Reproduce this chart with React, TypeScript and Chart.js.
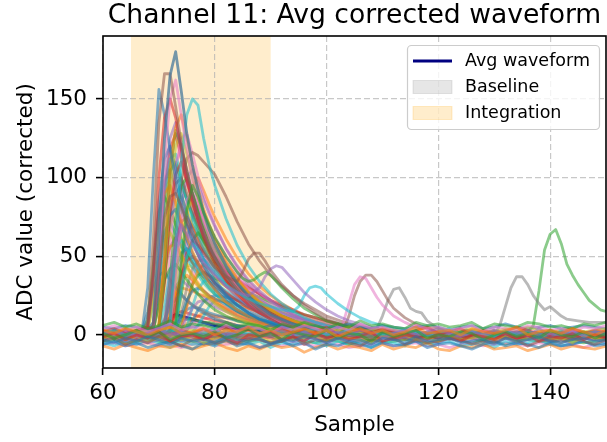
import React, { useEffect, useRef } from "react";
import { Chart, registerables } from "chart.js";

Chart.register(...registerables);

// ---------- text ----------
const TITLE = "Channel 11: Avg corrected waveform";
const X_LABEL = "Sample";
const Y_LABEL = "ADC value (corrected)";
const LEGEND_LABELS = ["Avg waveform", "Baseline", "Integration"];

// ---------- axes ----------
const X_RANGE = [60, 150];
const Y_RANGE = [-21, 190];
const X_TICKS = [60, 80, 100, 120, 140];
const Y_TICKS = [0, 50, 100, 150];
const INTEGRATION_WINDOW = [65, 90];
const BASELINE_WINDOW = [0, 20];

// ---------- average waveform ----------
const AVG_SAMPLES = [60, 64, 66, 68, 70, 71, 72, 73, 74, 75, 76, 78, 80, 84, 88, 92, 96, 100, 110, 120, 130, 140, 150];
const AVG_VALUES = [0, 0, 0, 1, 3, 7, 11, 13, 12, 11, 10, 8, 6, 4, 3, 2, 1, 1, 0, 0, 0, 0, 0];

// ---------- early pulses (shared sample grid) ----------
const PULSE_SAMPLES = [60, 62, 64, 66, 67, 68, 69, 70, 71, 72, 73, 74, 75, 76, 77, 78, 79, 80, 82, 84, 86, 88, 90, 92, 94, 96, 98, 100, 104, 108, 112, 116, 120, 125, 130, 135, 140, 145, 150];
const PULSE_TRACES: number[][] = [
  [2, -3, 4, 1, -2, 3, 8, 60, 125, 165, 180, 155, 128, 108, 92, 78, 67, 58, 44, 33, 25, 18, 13, 10, 7, 5, 2, 3, -1, 2, -3, 1, -2, 3, -1, 2, -4, 1, 0],
  [-4, 3, -1, 2, 2, 8, 60, 135, 166, 166, 145, 122, 104, 89, 76, 65, 56, 49, 38, 29, 22, 16, 12, 9, 6, 4, 3, 1, -2, 3, 0, -3, 2, -1, 3, -2, 1, -3, 2],
  [1, -2, 2, -3, 0, 2, 6, 45, 110, 150, 162, 140, 118, 100, 85, 72, 62, 53, 40, 30, 22, 17, 12, 8, 6, 3, 4, 1, 2, -2, 1, 3, -1, 0, -3, 2, 0, 3, -2],
  [-2, 2, 0, 3, -1, 1, -2, 2, 4, 8, 55, 110, 140, 150, 146, 125, 108, 95, 74, 57, 44, 34, 26, 20, 15, 11, 8, 6, 3, 1, 2, -1, 1, -2, 2, 0, -1, 2, 1],
  [3, -1, -4, 2, 1, 5, 40, 100, 138, 150, 138, 118, 100, 85, 73, 62, 53, 46, 35, 26, 19, 14, 10, 7, 5, 3, 1, 2, -1, 0, -2, 2, 0, 1, -2, 3, -1, 0, -3],
  [0, 2, -1, 1, 3, 30, 100, 156, 140, 118, 99, 84, 71, 60, 51, 44, 38, 33, 25, 19, 14, 10, 8, 6, 4, 3, 2, 1, 1, -1, 2, 0, -2, 1, 0, -1, 2, -2, 1],
  [-1, 1, 3, -2, 2, 0, 1, 6, 50, 105, 132, 140, 125, 108, 93, 80, 70, 61, 47, 36, 27, 21, 16, 12, 9, 6, 4, 3, 1, 2, -1, 0, 2, -2, 1, 0, 3, -1, 0],
  [2, 0, -2, 1, 3, -1, 5, 40, 95, 125, 135, 118, 101, 87, 75, 65, 56, 49, 37, 28, 21, 16, 12, 9, 6, 5, 3, 2, 0, 1, -2, 2, -1, 0, 2, -3, 1, 0, 2],
  [-3, 1, 2, -1, 0, 2, -1, 4, 45, 105, 130, 120, 104, 90, 78, 67, 58, 50, 38, 29, 22, 16, 12, 9, 7, 5, 3, 2, 0, -1, 1, -2, 2, 0, -1, 1, -2, 2, 0],
  [1, -2, 0, 2, -1, 1, 2, 7, 40, 90, 120, 128, 115, 100, 87, 76, 66, 58, 45, 35, 27, 21, 16, 12, 9, 7, 5, 3, 2, 0, 1, -1, 0, 2, -2, 1, 0, -1, 1],
  [0, -1, 2, 0, 1, -2, 0, 2, 3, 10, 60, 98, 112, 116, 114, 110, 106, 102, 88, 72, 58, 47, 38, 31, 25, 20, 16, 12, 7, 4, 2, 1, 0, -1, 1, 0, -2, 1, 0],
  [-2, 3, 1, -1, 2, 6, 35, 85, 112, 120, 106, 90, 77, 66, 56, 48, 41, 35, 26, 19, 14, 10, 7, 5, 3, 2, 0, 1, -2, 1, 0, 2, -1, 1, -2, 0, 2, -1, -2],
  [1, 0, -3, 1, 0, -2, 2, 5, 35, 80, 102, 110, 98, 86, 75, 66, 58, 51, 40, 31, 24, 19, 14, 11, 8, 6, 4, 3, 1, 0, -1, 1, 0, -2, 1, 2, -1, 0, 1],
  [0, 2, -1, 0, 2, -1, 1, 0, 5, 35, 75, 95, 100, 90, 79, 69, 61, 54, 42, 33, 26, 20, 15, 12, 9, 7, 5, 4, 2, 1, 0, -1, 1, 0, -1, 2, 0, 1, -1],
  [2, -1, 1, -2, 1, 4, 30, 70, 90, 95, 84, 72, 62, 53, 45, 39, 33, 29, 21, 16, 12, 9, 6, 4, 3, 2, 1, 0, 2, -1, 1, 0, -2, 1, 0, -1, 1, 2, -1],
  [-1, 0, 2, -1, 1, 0, -2, 1, 2, 6, 38, 72, 86, 90, 82, 73, 65, 58, 46, 37, 29, 23, 18, 14, 11, 8, 6, 5, 3, 1, 0, 1, -1, 0, 1, -1, 0, -2, 1],
  [3, 1, -2, 0, -1, 2, 5, 30, 62, 76, 80, 70, 60, 52, 45, 39, 34, 29, 22, 16, 12, 9, 7, 5, 3, 2, 1, 0, -1, 1, -2, 0, 1, -1, 0, 1, -1, 0, 2],
  [-2, 0, 1, 2, -1, 0, 1, -1, 4, 25, 52, 66, 70, 63, 56, 50, 44, 39, 31, 24, 19, 15, 12, 9, 7, 5, 4, 3, 1, 0, 1, -1, 0, 1, -1, 0, 1, -1, 0],
  [0, -2, 1, 0, 1, 3, 20, 45, 60, 65, 58, 50, 43, 37, 32, 27, 23, 20, 15, 11, 8, 6, 4, 3, 2, 1, 0, 1, -1, 0, 1, -1, 0, 1, -2, 0, 1, 0, -1],
  [1, 0, -1, 1, 0, -1, 1, 3, 18, 40, 55, 60, 54, 48, 42, 37, 32, 28, 22, 17, 13, 10, 8, 6, 4, 3, 2, 1, 0, 1, -1, 0, 1, -1, 0, 1, 0, -1, 1],
  [-1, 1, 0, -2, 1, 0, -1, 1, 0, 4, 20, 38, 47, 50, 46, 41, 37, 33, 27, 22, 17, 14, 11, 8, 6, 5, 3, 2, 1, 0, -1, 1, 0, -1, 1, 0, -1, 1, 0],
  [2, 0, -1, 1, 0, 1, 4, 18, 35, 42, 45, 40, 35, 30, 26, 22, 19, 16, 12, 9, 7, 5, 3, 2, 1, 0, 1, -1, 0, 1, -1, 0, 1, 0, -1, 1, 0, 1, -1],
  [-1, 1, 0, -1, 0, 1, 0, -1, 3, 14, 27, 35, 38, 35, 31, 28, 25, 22, 17, 13, 10, 8, 6, 4, 3, 2, 1, 0, 1, -1, 0, 1, -1, 0, 1, -1, 0, 0, 1],
  [0, -1, 1, 0, -1, 0, 1, 0, -1, 1, 4, 12, 22, 28, 30, 28, 25, 23, 19, 15, 12, 10, 8, 6, 5, 4, 3, 2, 1, 0, 1, -1, 0, 1, 0, -1, 1, 0, -1],
  [1, -1, 0, 1, -1, 0, 1, 3, 10, 18, 23, 25, 22, 19, 17, 15, 13, 11, 8, 6, 5, 4, 3, 2, 1, 0, 1, -1, 0, 1, 0, -1, 1, 0, -1, 0, 1, -1, 0],
  [-1, 0, 1, -1, 0, 1, 0, -1, 0, 1, 0, 4, 11, 17, 21, 22, 20, 18, 15, 12, 10, 8, 6, 5, 4, 3, 2, 1, 0, 1, -1, 0, 1, -1, 0, 1, -1, 0, 1],
  [0, 2, -1, 1, 0, 5, 35, 78, 98, 105, 93, 80, 69, 59, 51, 44, 38, 33, 25, 19, 14, 11, 8, 6, 4, 3, 2, 1, 0, -1, 1, 0, -1, 1, 0, -2, 1, 0, 1],
  [1, -1, 2, 0, -1, 1, 0, 5, 40, 88, 110, 118, 106, 93, 82, 72, 63, 56, 44, 34, 26, 20, 15, 11, 8, 6, 4, 3, 1, 0, 1, -1, 0, 2, -1, 0, 1, -1, 0],
  [-1, 0, 1, -1, 1, 0, -1, 1, 2, 6, 35, 65, 80, 85, 78, 70, 62, 55, 43, 34, 27, 21, 16, 12, 9, 7, 5, 4, 2, 1, 0, 1, -1, 0, 1, 0, -1, 1, 0],
  [0, 1, -1, 0, 1, -1, 0, 1, 5, 22, 42, 52, 55, 50, 44, 39, 34, 30, 24, 19, 15, 12, 9, 7, 5, 4, 3, 2, 1, 0, -1, 1, 0, -1, 1, 0, -1, 1, 0],
  [1, 0, -1, 1, 0, -1, 1, 0, -1, 1, 5, 25, 48, 60, 65, 60, 54, 48, 38, 30, 24, 19, 15, 12, 9, 7, 5, 4, 2, 1, 0, -1, 1, 0, -1, 1, 0, -1, 1],
  [0, 1, -1, 0, 1, 0, -1, 1, 0, -1, 1, 4, 18, 32, 41, 45, 42, 38, 31, 25, 20, 16, 12, 9, 7, 5, 4, 3, 1, 0, 1, -1, 0, 1, -1, 0, 1, 0, -1],
  [-1, 0, 1, 0, -1, 1, 0, -1, 1, 0, -1, 1, 5, 18, 29, 34, 35, 33, 28, 23, 18, 14, 11, 9, 7, 5, 4, 3, 2, 0, 1, 0, -1, 1, 0, -1, 0, 1, 0],
  [1, -1, 0, 2, -1, 1, 0, 4, 35, 78, 96, 100, 90, 80, 71, 63, 56, 50, 40, 32, 25, 20, 16, 12, 9, 7, 5, 4, 2, 1, 0, -1, 1, 0, -1, 1, 0, 1, -1],
  [0, 2, -1, 1, 0, 2, 6, 45, 92, 112, 115, 100, 86, 74, 64, 55, 48, 42, 32, 24, 18, 14, 10, 8, 6, 4, 3, 2, 1, 0, -1, 1, 0, -1, 1, 0, -1, 0, 1],
  [-1, 0, 2, -1, 1, 0, 4, 30, 80, 104, 110, 98, 86, 76, 67, 59, 52, 46, 36, 28, 22, 17, 13, 10, 8, 6, 4, 3, 2, 0, 1, -1, 0, 1, -1, 0, 1, -1, 0],
  [1, 0, -1, 1, 0, -1, 1, 0, 4, 28, 58, 72, 75, 68, 61, 54, 48, 43, 34, 27, 21, 17, 13, 10, 8, 6, 5, 4, 2, 1, 0, 1, -1, 0, 1, -1, 0, 1, -1],
  [0, -1, 1, 0, 1, 0, -1, 1, 0, 5, 40, 82, 100, 105, 96, 86, 77, 69, 55, 44, 35, 28, 22, 17, 13, 10, 8, 6, 3, 2, 1, 0, -1, 1, 0, -1, 1, 0, -1],
  [-1, 1, 0, -1, 1, 0, 5, 25, 48, 56, 58, 51, 44, 38, 33, 28, 24, 21, 16, 12, 9, 7, 5, 4, 3, 2, 1, 0, 1, -1, 0, 1, 0, -1, 0, 1, -1, 0, 1],
  [0, 1, -1, 0, 3, 15, 30, 38, 40, 35, 30, 26, 22, 19, 16, 14, 12, 10, 8, 6, 4, 3, 2, 2, 1, 0, 1, -1, 0, 1, -1, 0, 1, -1, 0, 1, 0, -1, 0],
  [1, 0, -1, 2, 0, 1, -1, 2, 6, 50, 105, 125, 128, 115, 101, 89, 79, 70, 55, 43, 34, 27, 21, 16, 13, 10, 8, 6, 3, 2, 1, 0, -1, 1, 0, -1, 1, 0, -1],
  [0, -1, 1, 0, -1, 1, 0, -1, 1, 0, 2, 14, 30, 42, 47, 48, 45, 41, 34, 28, 23, 19, 15, 12, 10, 8, 6, 5, 3, 2, 1, 0, 1, -1, 0, 1, 0, -1, 0],
  [-1, 0, 1, -1, 0, 1, -1, 3, 30, 68, 85, 88, 79, 70, 62, 55, 49, 44, 35, 27, 21, 17, 13, 10, 8, 6, 4, 3, 2, 1, 0, -1, 1, 0, -1, 1, 0, 1, -1],
  [0, 1, -1, 0, 1, 0, -1, 1, 0, 3, 15, 35, 52, 60, 57, 53, 49, 46, 40, 35, 30, 26, 22, 19, 16, 13, 11, 9, 5, 3, 1, 0, -1, 1, 0, -1, 1, 0, -1],
  [1, -1, 0, 1, 0, -1, 1, 0, 1, 0, 2, 8, 20, 32, 38, 40, 38, 36, 33, 30, 27, 24, 21, 18, 15, 13, 11, 9, 6, 3, 2, 1, 0, -1, 1, 0, -1, 1, 0],
  [-1, 0, 1, -1, 0, 1, -1, 2, 8, 18, 26, 30, 29, 28, 26, 25, 24, 23, 21, 19, 17, 15, 13, 12, 10, 8, 7, 6, 4, 2, 1, 0, 1, -1, 0, 1, 0, -1, 1],
  [0, 1, 0, -1, 1, 0, -1, 0, 1, 2, 8, 30, 58, 75, 82, 76, 69, 62, 50, 40, 32, 26, 21, 17, 13, 10, 8, 6, 3, 2, 1, 0, -1, 0, 1, -1, 0, 1, 0],
  [1, 0, -1, 1, 0, 1, 2, 6, 35, 72, 90, 95, 86, 77, 69, 62, 56, 50, 41, 33, 27, 22, 18, 14, 11, 9, 7, 5, 3, 1, 0, 1, -1, 0, 1, 0, -1, 0, 1],
  [0, -1, 1, 0, 1, 4, 22, 50, 66, 72, 64, 56, 49, 43, 38, 33, 29, 26, 20, 16, 12, 10, 8, 6, 4, 3, 2, 1, 0, 1, -1, 0, 1, 0, -1, 1, 0, -1, 0],
  [-1, 0, 1, 0, -1, 1, 0, -1, 1, 0, 1, 5, 18, 35, 48, 55, 52, 48, 42, 36, 31, 26, 22, 18, 15, 12, 10, 8, 4, 2, 1, 0, -1, 1, 0, -1, 0, 1, -1],
  [1, 0, -1, 1, 0, -1, 1, 0, 3, 12, 26, 38, 45, 43, 41, 39, 37, 35, 31, 27, 24, 21, 18, 15, 13, 11, 9, 7, 4, 2, 1, 0, 1, -1, 0, 1, -1, 0, 1],
  [0, 1, 0, -1, 1, 0, 3, 20, 42, 56, 62, 57, 51, 46, 41, 37, 34, 31, 26, 22, 19, 16, 13, 11, 9, 7, 5, 4, 2, 1, 0, -1, 1, 0, -1, 1, 0, -1, 0],
  [-1, 1, 0, -1, 0, 1, -1, 0, 2, 6, 25, 48, 64, 70, 65, 59, 54, 49, 41, 34, 28, 23, 19, 15, 12, 10, 8, 6, 3, 2, 0, 1, -1, 0, 1, -1, 0, 1, 0],
  [0, -1, 1, 0, -1, 1, 4, 38, 90, 118, 128, 112, 97, 84, 73, 63, 55, 48, 37, 28, 21, 16, 12, 9, 7, 5, 4, 3, 1, 0, -1, 1, 0, -1, 0, 1, -1, 0, 1],
  [0, 1, -1, 0, 1, 0, -1, 1, 0, -1, 1, 0, 3, 9, 16, 21, 24, 25, 24, 22, 20, 18, 16, 14, 12, 10, 8, 7, 4, 2, 1, 0, -1, 1, 0, -1, 1, 0, -1],
  [1, -1, 0, 1, 2, 10, 45, 78, 88, 80, 70, 61, 53, 46, 40, 35, 30, 26, 20, 15, 11, 8, 6, 4, 3, 2, 1, 0, 1, -1, 0, 1, 0, -1, 1, 0, -1, 0, 1],
  [0, 1, -1, 0, 1, -1, 0, 2, 10, 22, 31, 35, 32, 29, 26, 24, 22, 20, 17, 14, 12, 10, 8, 7, 5, 4, 3, 2, 1, 0, -1, 1, 0, 1, -1, 0, 1, -1, 0],
  [-1, 0, 1, -1, 1, 0, -1, 1, 0, 3, 12, 40, 75, 94, 100, 92, 83, 75, 61, 49, 39, 31, 25, 20, 16, 12, 9, 7, 4, 2, 1, 0, -1, 1, 0, -1, 1, 0, -1],
  [0, -1, 1, 0, -1, 1, 0, -1, 1, 0, -1, 1, 0, 2, 6, 12, 18, 22, 21, 20, 18, 16, 14, 12, 11, 9, 8, 6, 4, 2, 1, 0, 1, -1, 0, 1, -1, 0, 1],
  [0, 1, -1, 0, 1, 0, -1, 1, 3, 8, 13, 15, 14, 13, 12, 11, 10, 9, 8, 6, 5, 4, 3, 2, 2, 1, 0, 1, -1, 0, 1, 0, -1, 1, 0, -1, 0, 1, 0],
  [1, 0, -1, 0, -1, 1, 0, 1, 2, 4, 8, 12, 16, 18, 17, 16, 14, 13, 11, 9, 8, 6, 5, 4, 3, 2, 2, 1, 0, 1, -1, 0, 1, 0, -1, 1, 0, -1, 1],
  [0, -1, 1, 0, 1, -1, 2, 5, 9, 11, 12, 11, 10, 10, 9, 8, 8, 7, 6, 5, 4, 3, 3, 2, 1, 1, 0, 1, 0, -1, 1, 0, -1, 1, 0, -1, 1, 0, -1],
  [-1, 0, 1, 0, 0, 1, -1, 0, 1, 0, 2, 4, 7, 10, 12, 14, 13, 12, 11, 10, 8, 7, 6, 5, 4, 3, 2, 2, 1, 0, -1, 1, 0, -1, 1, 0, -1, 0, 1],
  [0, 1, 0, -1, 1, 0, 1, 2, 4, 6, 8, 9, 10, 9, 9, 8, 7, 7, 6, 5, 5, 4, 3, 3, 2, 2, 1, 1, 0, 1, 0, -1, 1, 0, -1, 0, 1, -1, 0],
  [1, -1, 0, 1, 0, -1, 1, 0, -1, 1, 2, 3, 5, 7, 9, 10, 11, 12, 11, 10, 9, 8, 7, 6, 5, 4, 3, 3, 2, 1, 0, 1, -1, 0, 1, -1, 0, 1, 0],
];
const PULSE_COLORS = [
  "slate", "brown", "pink", "cyan", "red", "blue", "orange", "purple", "green", "olive",
  "brown", "blue", "red", "green", "orange", "pink", "blue", "purple", "olive", "cyan",
  "red", "green", "orange", "blue", "gray", "purple", "gray", "pink", "olive", "blue",
  "green", "orange", "cyan", "brown", "cyan", "green", "red", "purple", "orange", "blue",
  "pink", "gray", "olive",
  "red", "green", "orange", "purple", "blue", "cyan", "pink", "olive", "brown", "gray",
  "red", "blue", "green", "purple", "orange", "cyan",
  "red", "blue", "green", "orange", "purple", "pink",
];

// ---------- later pulses (own sample grids) ----------
const LATE_SAMPLES: number[][] = [
  [60, 64, 66, 68, 69, 70, 71, 72, 73, 74, 75, 76, 78, 80, 82, 84, 85, 86, 87, 88, 89, 90, 92, 94, 96, 98, 100, 104, 110, 116, 122, 128, 134, 140, 146, 150],
  [60, 64, 66, 68, 70, 71, 72, 73, 74, 75, 76, 78, 80, 82, 84, 86, 88, 89, 90, 91, 92, 94, 96, 98, 100, 102, 104, 108, 112, 118, 124, 130, 136, 142, 150],
  [60, 64, 66, 68, 70, 72, 73, 74, 75, 76, 77, 78, 80, 82, 84, 85, 86, 87, 88, 89, 90, 92, 94, 96, 98, 100, 104, 110, 116, 122, 128, 134, 140, 146, 150],
  [60, 64, 66, 68, 70, 72, 73, 74, 75, 76, 77, 78, 80, 82, 84, 86, 88, 90, 92, 94, 95, 96, 97, 98, 99, 100, 102, 104, 106, 108, 112, 116, 122, 128, 134, 140, 146, 150],
  [60, 64, 68, 70, 72, 74, 76, 78, 80, 84, 88, 92, 96, 100, 102, 103, 104, 105, 106, 107, 108, 109, 110, 112, 114, 116, 120, 125, 130, 135, 140, 145, 150],
  [60, 64, 68, 72, 76, 80, 84, 88, 92, 96, 100, 102, 103, 104, 105, 106, 107, 108, 109, 110, 111, 112, 114, 116, 118, 120, 124, 128, 134, 140, 146, 150],
  [60, 64, 68, 72, 76, 80, 84, 88, 92, 96, 100, 104, 106, 108, 109, 110, 111, 112, 113, 114, 115, 116, 117, 118, 120, 124, 128, 132, 136, 140, 146, 150],
  [60, 64, 68, 72, 76, 80, 84, 88, 92, 96, 100, 104, 108, 112, 116, 120, 124, 128, 130, 131, 132, 133, 134, 135, 136, 137, 138, 139, 140, 141, 142, 143, 145, 147, 150],
  [60, 64, 68, 72, 76, 80, 84, 88, 92, 96, 100, 104, 108, 112, 116, 120, 124, 128, 132, 136, 137, 138, 139, 140, 141, 142, 143, 144, 145, 146, 147, 148, 149, 150],
];
const LATE_VALUES: number[][] = [
  [1, -2, 0, 2, 6, 40, 75, 88, 90, 82, 72, 64, 52, 43, 37, 34, 40, 48, 52, 52, 47, 41, 32, 25, 19, 14, 10, 5, 2, 0, -1, 1, 0, -1, 1, 0],
  [0, 1, -1, 2, 1, 6, 35, 60, 70, 64, 57, 46, 38, 31, 27, 25, 30, 37, 42, 44, 43, 35, 27, 21, 16, 12, 9, 5, 2, 0, 1, -1, 0, 1, 0],
  [-1, 0, 1, -1, 0, 2, 8, 45, 80, 95, 88, 78, 62, 50, 40, 36, 34, 35, 38, 40, 38, 30, 23, 17, 13, 9, 5, 2, 0, 1, -1, 0, 1, 0, -1],
  [1, -1, 0, 1, -1, 2, 6, 30, 50, 58, 54, 48, 39, 32, 27, 23, 20, 18, 16, 15, 18, 25, 30, 31, 30, 26, 20, 15, 11, 8, 4, 2, 0, -1, 1, 0, -1, 0],
  [0, 1, -1, 0, 1, 0, -1, 1, 0, -1, 1, 0, -1, 1, 2, 8, 20, 32, 37, 36, 30, 24, 19, 12, 8, 5, 2, 0, -1, 1, 0, 1, -1],
  [-1, 0, 1, 0, -1, 1, 0, -1, 1, 0, 1, 0, 3, 12, 25, 34, 38, 38, 34, 28, 22, 17, 11, 7, 4, 2, 1, 0, -1, 1, 0, 1],
  [0, -1, 1, 0, 1, -1, 0, 1, -1, 0, 1, 0, -1, 1, 4, 12, 22, 29, 30, 24, 17, 15, 14, 9, 4, 1, 0, -1, 1, 0, -1, 0],
  [1, 0, -1, 0, 1, -1, 0, 1, 0, -1, 1, 0, -1, 0, 1, 0, -1, 1, 0, 6, 18, 30, 37, 37, 32, 25, 20, 16, 18, 15, 12, 10, 9, 8, 8],
  [0, 1, -1, 0, 1, 0, -1, 1, 0, -1, 0, 1, -1, 0, 1, -1, 0, 1, 0, 2, 6, 28, 54, 64, 67, 58, 45, 38, 32, 27, 22, 19, 16, 15],
];
const LATE_COLORS = ["brown", "purple", "green", "cyan", "pink", "brown", "gray", "gray", "green"];

// ---------- baseline noise traces ----------
const NOISE_SAMPLES = [60, 62, 64, 66, 68, 70, 72, 74, 76, 78, 80, 82, 84, 86, 88, 90, 92, 94, 96, 98, 100, 102, 104, 106, 108, 110, 112, 114, 116, 118, 120, 122, 124, 126, 128, 130, 132, 134, 136, 138, 140, 142, 144, 146, 148, 150];
const NOISE_TRACES: number[][] = [
  [-3, -5, -2, -4, -1, -3, -6, -2, -4, -3, -5, -1, -3, -4, -2, -6, -3, -4, -1, -3, -5, -2, -4, -3, -6, -2, -3, -5, -1, -4, -3, -2, -5, -4, -3, -6, -2, -4, -3, -1, -4, -5, -3, -2, -4, -3],
  [3, 1, 4, 2, 0, 3, 5, 1, 2, 4, 0, 3, 2, 5, 1, 3, 0, 2, 4, 1, 3, -1, 2, 4, 1, 3, 0, 2, 5, 1, 2, 3, 0, 4, 2, 1, 3, 5, 0, 2, 3, 1, 4, 2, 0, 3],
  [1, -2, 0, 3, -1, 2, -3, 0, 1, -1, 2, -2, 0, 4, -1, 1, -3, 2, 0, -1, 3, -2, 1, 0, -4, 2, -1, 1, 3, -2, 0, -1, 2, 1, -3, 0, 2, -1, 1, -2, 3, 0, -1, 2, -2, 1],
  [-1, 1, -3, 0, -2, 2, -4, -1, 0, -3, 1, -2, -5, 0, -1, 2, -3, -1, -4, 1, -2, 0, -3, -1, 2, -4, -2, 0, -1, -3, 1, -2, -4, 0, -1, -3, 1, -2, 0, -4, -1, -2, 1, -3, 0, -2],
  [2, 0, 3, -1, 1, 4, 0, 2, -1, 3, 1, 0, 2, 5, -1, 1, 3, 0, 2, -1, 4, 1, 0, 3, 2, -2, 1, 3, 0, 2, 4, 1, -1, 2, 0, 3, 1, 2, -1, 4, 0, 1, 3, -1, 2, 1],
  [-4, -2, -6, -3, -5, -1, -4, -7, -3, -2, -5, -4, -6, -2, -3, -5, -4, -1, -6, -3, -4, -2, -5, -7, -3, -4, -2, -6, -3, -5, -4, -2, -3, -6, -4, -5, -2, -3, -7, -4, -3, -5, -2, -4, -6, -3],
  [4, 6, 3, 5, 2, 4, 7, 3, 5, 4, 2, 6, 3, 5, 4, 1, 5, 3, 6, 4, 2, 5, 3, 7, 4, 5, 3, 2, 6, 4, 5, 3, 4, 6, 2, 5, 4, 3, 6, 5, 3, 4, 2, 5, 4, 6],
  [0, 2, -1, 1, -3, 0, 2, -2, 1, 0, -1, 3, -2, 0, 1, -1, 2, -3, 1, 0, -2, 2, 0, -1, 1, 3, -2, 0, -1, 2, 1, -3, 0, 1, -2, 2, 0, -1, 3, -1, 1, 0, -2, 1, 2, 0],
  [-2, 0, -3, -1, -4, -2, 0, -3, -1, -5, -2, -1, -3, 0, -2, -4, -1, -3, -2, 0, -4, -1, -2, -3, -5, -1, -2, 0, -3, -2, -4, -1, -3, -2, 0, -3, -1, -4, -2, -1, -3, -2, -5, -1, -2, -3],
  [1, 3, 0, 2, -1, 1, 3, 2, 0, 1, 4, -1, 2, 1, 0, 3, 1, -1, 2, 4, 0, 1, 3, -1, 2, 0, 1, 3, 2, -1, 1, 4, 0, 2, 1, -1, 3, 0, 2, 1, -2, 3, 1, 0, 2, 1],
  [-6, -4, -7, -5, -8, -6, -4, -7, -9, -5, -6, -3, -7, -5, -8, -6, -4, -7, -5, -9, -6, -7, -4, -6, -8, -5, -7, -6, -4, -8, -6, -5, -7, -9, -6, -4, -7, -5, -6, -8, -5, -7, -6, -4, -7, -6],
  [-7, -9, -6, -8, -10, -7, -8, -6, -9, -7, -5, -8, -10, -7, -9, -6, -8, -7, -11, -8, -6, -9, -7, -8, -10, -6, -9, -7, -8, -5, -9, -10, -7, -8, -6, -9, -8, -7, -10, -8, -6, -9, -7, -8, -9, -7],
  [6, 8, 5, 7, 4, 6, 9, 5, 7, 6, 4, 8, 5, 7, 6, 3, 7, 5, 8, 6, 4, 7, 5, 9, 6, 7, 5, 4, 8, 6, 7, 5, 6, 8, 4, 7, 6, 5, 8, 7, 5, 6, 4, 7, 6, 8],
  [2, 4, 1, 3, 5, 2, 0, 3, 1, 4, 2, 5, 1, 3, 0, 2, 4, 1, 3, 2, 5, 0, 2, 3, 1, 4, 2, 0, 3, 5, 1, 2, 4, 0, 3, 1, 2, 5, 3, 1, 0, 2, 4, 1, 3, 2],
  [-3, -1, -4, -2, -5, -3, -1, -4, -2, -6, -3, -2, -4, -1, -3, -5, -2, -4, -3, -1, -5, -2, -3, -4, -6, -2, -3, -1, -4, -3, -5, -2, -4, -3, -1, -4, -2, -5, -3, -2, -4, -3, -6, -2, -3, -4],
  [-5, -7, -4, -6, -3, -5, -8, -4, -6, -5, -7, -3, -5, -6, -4, -8, -5, -6, -3, -5, -7, -4, -6, -5, -8, -4, -5, -7, -3, -6, -5, -4, -7, -6, -5, -8, -4, -6, -5, -3, -6, -7, -5, -4, -6, -5],
  [3, 2, 4, 3, 2, 3, 5, 4, 3, 2, 3, 4, 2, 3, 5, 3, 2, 4, 3, 2, 4, 3, 5, 2, 3, 4, 3, 2, 3, 5, 4, 2, 3, 4, 3, 2, 4, 3, 5, 3, 2, 3, 4, 2, 3, 4],
  [-1, 0, -2, -1, 0, -1, -3, -1, 0, -2, -1, 0, -1, -2, 0, -1, -3, -1, -2, 0, -1, -2, 0, -1, -3, -1, 0, -2, -1, 0, -2, -1, -3, 0, -1, -2, 0, -1, -2, -1, 0, -1, -3, -1, 0, -1],
  [-6, -5, -7, -6, -5, -7, -6, -8, -6, -5, -7, -6, -5, -6, -8, -6, -7, -5, -6, -7, -5, -6, -8, -7, -6, -5, -7, -6, -5, -7, -6, -8, -6, -5, -7, -6, -5, -6, -7, -5, -6, -7, -6, -8, -6, -5],
  [1, 2, 0, 1, 3, 1, 0, 2, 1, 0, 2, 1, 3, 0, 1, 2, 0, 1, 2, 3, 1, 0, 2, 1, 0, 2, 3, 1, 0, 1, 2, 0, 1, 3, 2, 0, 1, 2, 1, 0, 3, 1, 2, 0, 1, 2],
  [5, 4, 6, 5, 3, 5, 6, 4, 5, 7, 5, 4, 6, 5, 4, 6, 5, 3, 5, 6, 4, 5, 7, 5, 4, 6, 5, 4, 5, 6, 5, 3, 5, 6, 4, 5, 7, 5, 4, 5, 6, 4, 5, 6, 5, 4],
  [-4, -3, -5, -4, -2, -4, -5, -3, -4, -6, -4, -3, -5, -4, -3, -5, -4, -2, -4, -5, -3, -4, -6, -4, -3, -5, -4, -3, -4, -5, -4, -2, -4, -5, -3, -4, -6, -4, -3, -4, -5, -3, -4, -5, -4, -3],
  [-2, -1, -3, -2, -1, -2, -4, -2, -1, -3, -2, -1, -2, -3, -1, -2, -4, -2, -1, -2, -3, -1, -2, -2, -4, -1, -2, -3, -2, -1, -3, -2, -1, -2, -4, -2, -1, -3, -2, -1, -2, -3, -1, -2, -3, -2],
  [0, 1, -1, 0, 2, 0, -1, 1, 0, -2, 0, 1, -1, 0, 1, -1, 0, 2, 0, -1, 1, 0, -2, 0, 1, -1, 0, 1, 2, 0, -1, 0, 1, -1, 0, 2, 0, -1, 1, 0, -2, 0, 1, 0, -1, 1],
];
const NOISE_COLORS = [
  "blue", "orange", "green", "red", "purple", "brown", "pink", "gray", "olive", "cyan", "blue", "orange",
  "green", "red", "purple", "cyan", "olive", "brown", "pink", "gray", "blue", "green", "red", "purple",
];

// ---------- styles ----------
const PALETTE: Record<string, string> = {
  blue: "rgba(31,119,180,0.55)",
  orange: "rgba(255,127,14,0.55)",
  green: "rgba(44,160,44,0.55)",
  red: "rgba(214,39,40,0.55)",
  purple: "rgba(148,103,189,0.55)",
  brown: "rgba(140,86,75,0.55)",
  pink: "rgba(227,119,194,0.55)",
  gray: "rgba(127,127,127,0.55)",
  olive: "rgba(188,189,34,0.55)",
  cyan: "rgba(23,190,207,0.55)",
  slate: "rgba(70,120,155,0.75)",
};
const FONT = "DejaVu Sans";
const LINE_W = 2.8;

function toPoints(xs: number[], ys: number[]) {
  return ys
    .map((y, i) => ({ x: xs[i], y }))
    .filter((p) => p.x !== undefined && p.y !== undefined);
}

const decorPlugin = {
  id: "decor",
  beforeDraw(chart: any) {
    const { ctx, chartArea, scales } = chart;
    const xs = scales.x;
    ctx.save();
    ctx.beginPath();
    ctx.rect(chartArea.left, chartArea.top, chartArea.right - chartArea.left, chartArea.bottom - chartArea.top);
    ctx.clip();
    const spans: [number[], string][] = [
      [BASELINE_WINDOW, "rgba(128,128,128,0.2)"],
      [INTEGRATION_WINDOW, "rgba(255,165,0,0.2)"],
    ];
    spans.forEach(([w, c]) => {
      const a = xs.getPixelForValue(w[0]);
      const b = xs.getPixelForValue(w[1]);
      ctx.fillStyle = c;
      ctx.fillRect(a, chartArea.top, b - a, chartArea.bottom - chartArea.top);
    });
    ctx.restore();
  },
  afterDatasetsDraw(chart: any) {
    const { ctx, chartArea } = chart;
    ctx.save();
    ctx.strokeStyle = "#000";
    ctx.lineWidth = 1.6;
    ctx.strokeRect(chartArea.left, chartArea.top, chartArea.right - chartArea.left, chartArea.bottom - chartArea.top);
    ctx.restore();
  },
  afterDraw(chart: any) {
    const { ctx, chartArea } = chart;
    const cx = (chartArea.left + chartArea.right) / 2;
    ctx.save();
    ctx.fillStyle = "#000";
    ctx.textAlign = "center";
    ctx.textBaseline = "alphabetic";
    ctx.font = `26.6px "${FONT}"`;
    ctx.fillText(TITLE, cx, 23);
    ctx.font = `21.5px "${FONT}"`;
    ctx.fillText(X_LABEL, cx, 431);
    ctx.save();
    ctx.translate(32, (chartArea.top + chartArea.bottom) / 2);
    ctx.rotate(-Math.PI / 2);
    ctx.fillText(Y_LABEL, 0, 0);
    ctx.restore();

    // legend
    ctx.beginPath();
    ctx.roundRect(407.5, 45.5, 192, 84, 4);
    ctx.fillStyle = "rgba(255,255,255,0.8)";
    ctx.fill();
    ctx.strokeStyle = "#cccccc";
    ctx.lineWidth = 1.2;
    ctx.stroke();

    const rowY = [61, 87, 113];
    ctx.strokeStyle = "#000080";
    ctx.lineWidth = 3;
    ctx.beginPath();
    ctx.moveTo(413, rowY[0]);
    ctx.lineTo(452, rowY[0]);
    ctx.stroke();
    const patches = ["rgba(128,128,128,0.2)", "rgba(255,165,0,0.2)"];
    patches.forEach((c, i) => {
      const y = rowY[i + 1];
      ctx.fillStyle = c;
      ctx.fillRect(413, y - 6.5, 39, 13);
      ctx.strokeStyle = c;
      ctx.lineWidth = 1;
      ctx.strokeRect(413, y - 6.5, 39, 13);
    });
    ctx.fillStyle = "#000";
    ctx.textAlign = "left";
    ctx.textBaseline = "middle";
    ctx.font = `17.5px "${FONT}"`;
    LEGEND_LABELS.forEach((t, i) => ctx.fillText(t, 465, rowY[i]));
    ctx.restore();
  },
};

export default function App() {
  const ref = useRef<HTMLCanvasElement | null>(null);

  useEffect(() => {
    const canvas = ref.current;
    if (!canvas) return;
    const lineDs = (data: any[], color: string, width = LINE_W) => ({
      data,
      borderColor: color,
      backgroundColor: color,
      borderWidth: width,
      pointRadius: 0,
      tension: 0,
      fill: false,
      clip: 0,
      borderJoinStyle: "round",
    });
    const datasets: any[] = [];
    NOISE_TRACES.forEach((ys, i) => datasets.push(lineDs(toPoints(NOISE_SAMPLES, ys), PALETTE[NOISE_COLORS[i]])));
    LATE_VALUES.forEach((ys, i) => datasets.push(lineDs(toPoints(LATE_SAMPLES[i], ys), PALETTE[LATE_COLORS[i]])));
    PULSE_TRACES.forEach((ys, i) => datasets.push(lineDs(toPoints(PULSE_SAMPLES, ys), PALETTE[PULSE_COLORS[i]])));
    datasets.push(lineDs(toPoints(AVG_SAMPLES, AVG_VALUES), "#000080", 3));

    const tickFont = { family: FONT, size: 21.5 };
    const grid = {
      color: "rgba(176,176,176,0.7)",
      lineWidth: 1.2,
      tickLength: 7,
      tickColor: "#000",
      tickWidth: 1.6,
      tickBorderDash: [],
    };
    const border = { display: false, dash: [6, 3] };

    const chart = new Chart(canvas, {
      type: "line",
      data: { datasets },
      options: {
        responsive: false,
        animation: false,
        devicePixelRatio: 1,
        events: [],
        layout: { padding: { left: 0, right: 6, top: 36, bottom: 0 } },
        plugins: {
          legend: { display: false },
          title: { display: false },
          tooltip: { enabled: false },
        },
        scales: {
          x: {
            type: "linear",
            min: X_RANGE[0],
            max: X_RANGE[1],
            afterFit: (s: any) => {
              s.height = 74;
            },
            afterBuildTicks: (s: any) => {
              s.ticks = X_TICKS.map((v) => ({ value: v }));
            },
            ticks: { font: tickFont, color: "#000", padding: 6, maxRotation: 0, autoSkip: false },
            grid,
            border,
          },
          y: {
            type: "linear",
            min: Y_RANGE[0],
            max: Y_RANGE[1],
            afterFit: (s: any) => {
              s.width = 103;
            },
            afterBuildTicks: (s: any) => {
              s.ticks = Y_TICKS.map((v) => ({ value: v }));
            },
            ticks: { font: tickFont, color: "#000", padding: 9, autoSkip: false },
            grid,
            border,
          },
        },
      } as any,
      plugins: [decorPlugin],
    });
    return () => chart.destroy();
  }, []);

  return (
    <div
      style={{
        position: "fixed",
        left: 0,
        top: 0,
        width: 607,
        height: 442,
        overflow: "hidden",
        background: "#fff",
      }}
    >
      <canvas ref={ref} width={612} height={442} style={{ display: "block", width: 612, height: 442 }} />
    </div>
  );
}
